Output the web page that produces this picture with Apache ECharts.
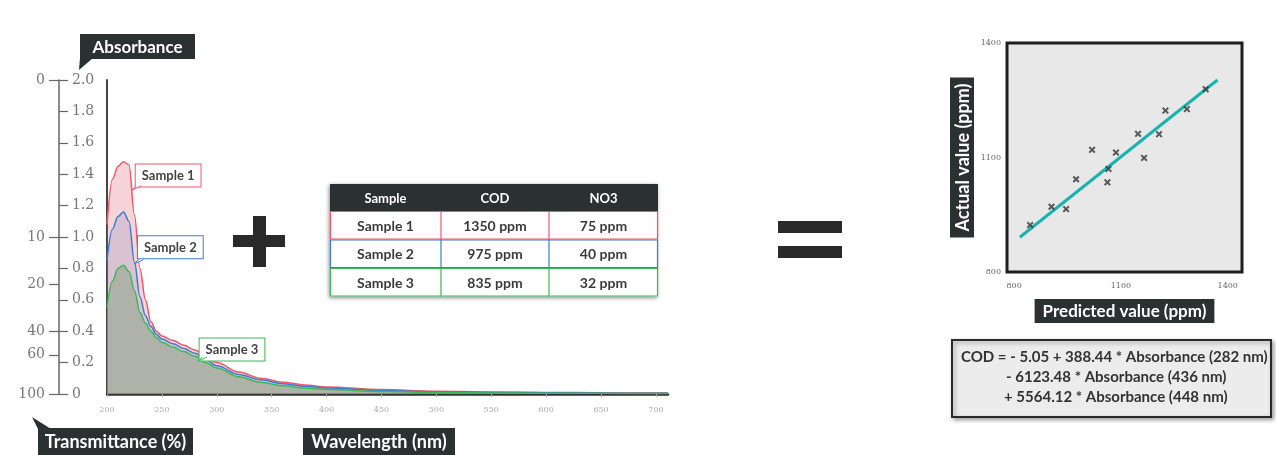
<!DOCTYPE html>
<html>
<head>
<meta charset="utf-8">
<title>COD prediction from absorbance spectra</title>
<script src="https://cdn.jsdelivr.net/npm/echarts@6/dist/echarts.min.js"></script>
<style>
    html, body { margin: 0; padding: 0; background: #fff; }
    #chart { width: 1276px; height: 455px; }
</style>
</head>
<body>
<div id="chart"></div>
<script>
'use strict';

// spectra (absorbance vs wavelength, nm)
var wavelengths = [200, 205, 210, 215, 220, 225, 230, 235, 240, 245, 250, 260, 270, 280, 290, 300, 320, 340, 360, 380, 400, 450, 500, 550, 600, 650, 700, 711];
var sample1 = [1.08, 1.37, 1.45, 1.48, 1.46, 1.14, 0.80, 0.60, 0.46, 0.40, 0.37, 0.34, 0.31, 0.28, 0.24, 0.20, 0.14, 0.10, 0.075, 0.058, 0.045, 0.028, 0.018, 0.013, 0.010, 0.008, 0.006, 0.006];
var sample2 = [0.85, 1.05, 1.13, 1.16, 1.10, 0.84, 0.62, 0.50, 0.43, 0.38, 0.35, 0.32, 0.29, 0.26, 0.22, 0.18, 0.125, 0.09, 0.065, 0.05, 0.038, 0.022, 0.014, 0.010, 0.008, 0.006, 0.005, 0.005];
var sample3 = [0.55, 0.72, 0.80, 0.82, 0.78, 0.66, 0.52, 0.45, 0.40, 0.36, 0.33, 0.30, 0.27, 0.24, 0.20, 0.165, 0.11, 0.075, 0.052, 0.038, 0.028, 0.016, 0.010, 0.007, 0.005, 0.004, 0.003, 0.003];
var sampleNames = ['Sample 1', 'Sample 2', 'Sample 3'];
var wavelengthTicks = [200, 250, 300, 350, 400, 450, 500, 550, 600, 650, 700];

// where each sample's call-out points on its curve [nm, absorbance]
var calloutTips = [[223, 1.30], [225, 0.83], [283, 0.21]];

// transmittance scale drawn beside the absorbance scale
var transTickPos = [0, 0.25, 0.4, 0.7, 1.0, 2.0];
var transLabels = ['100', '60', '40', '20', '10', '0'];

// lab results table
var tableHeader = ['Sample', 'COD', 'NO3'];
var tableCod = ['1350 ppm', '975 ppm', '835 ppm'];
var tableNo3 = ['75 ppm', '40 ppm', '32 ppm'];

// predicted vs actual COD (ppm)
var predicted = [845, 905, 946, 974, 1019, 1062, 1065, 1086, 1148, 1165, 1207, 1225, 1285, 1338];
var actual = [923, 971, 965, 1043, 1120, 1035, 1070, 1113, 1162, 1099, 1161, 1223, 1227, 1279];
var fitX = [816, 1371];
var fitY = [891, 1303];
var scatterTicks = [800, 1100, 1400];

var equation = [
    'COD = - 5.05 + 388.44 * Absorbance (282 nm)',
    '- 6123.48 * Absorbance (436 nm)',
    '+ 5564.12 * Absorbance (448 nm)'
];

var DARK = '#2b3030';
var RED = '#ee5868';
var BLUE = '#3b7cd0';
var GREEN = '#3cb85a';
var SAMPLE_COLORS = [RED, BLUE, GREEN];
var SANS = 'Lato, "Open Sans", sans-serif';
var TICKFONT = '"DejaVu Serif", serif';

function pairs(xs, ys) {
    var out = [];
    for (var i = 0; i < xs.length; i++) {
        out.push([xs[i], ys[i]]);
    }
    return out;
}

function sampleSeries(idx, values, fill, labelPos) {
    var line = SAMPLE_COLORS[idx];
    return {
        name: sampleNames[idx],
        type: 'line',
        xAxisIndex: 0,
        yAxisIndex: 0,
        data: pairs(wavelengths, values),
        smooth: 0.35,
        smoothMonotone: 'x',
        showSymbol: false,
        lineStyle: { color: line, width: 1.5 },
        areaStyle: { color: fill },
        z: 2 + idx,
        markPoint: {
            symbol: 'circle',
            symbolSize: 1,
            itemStyle: { color: line },
            data: [{ coord: calloutTips[idx] }],
            label: {
                show: true,
                position: labelPos,
                formatter: sampleNames[idx],
                color: '#444',
                fontFamily: SANS,
                fontWeight: 'bold',
                fontSize: 13,
                backgroundColor: '#fff',
                borderColor: line,
                borderWidth: 1,
                padding: [5, 6, 4, 6]
            }
        }
    };
}

function darkLabel(x, y, w, h, text, size) {
    return [
        { type: 'rect', shape: { x: x, y: y, width: w, height: h }, style: { fill: DARK } },
        {
            type: 'text', x: x + w / 2, y: y + h / 2 + 1,
            style: { text: text, fill: '#fff', font: 'bold ' + size + 'px ' + SANS, align: 'center', verticalAlign: 'middle' }
        }
    ];
}

function tableGraphics() {
    var left = 330, top = 184, colX = [330, 441, 549, 658], headH = 27, rowH = 28.5;
    var els = [];
    var width = colX[3] - colX[0];
    var height = headH + rowH * 3;
    els.push({ type: 'rect', shape: { x: left, y: top, width: width, height: height },
        style: { fill: '#fff', shadowBlur: 4, shadowColor: 'rgba(0,0,0,0.45)', shadowOffsetX: -1, shadowOffsetY: 1 } });
    els.push({ type: 'rect', shape: { x: left, y: top, width: width, height: headH }, style: { fill: DARK } });
    for (var c = 0; c < 3; c++) {
        els.push({ type: 'text', x: (colX[c] + colX[c + 1]) / 2, y: top + headH / 2 + 1,
            style: { text: tableHeader[c], fill: '#fff', font: 'bold 13px ' + SANS, align: 'center', verticalAlign: 'middle' } });
    }
    for (var r = 0; r < 3; r++) {
        var y0 = top + headH + r * rowH;
        var cells = [sampleNames[r], tableCod[r], tableNo3[r]];
        els.push({ type: 'rect', shape: { x: left + 0.5, y: y0 + 0.5, width: width - 1, height: rowH - 1 },
            style: { fill: 'none', stroke: SAMPLE_COLORS[r], lineWidth: 1.2 } });
        for (var k = 1; k < 3; k++) {
            els.push({ type: 'line', shape: { x1: colX[k], y1: y0, x2: colX[k], y2: y0 + rowH },
                style: { stroke: SAMPLE_COLORS[r], lineWidth: 1.2 } });
        }
        for (var j = 0; j < 3; j++) {
            els.push({ type: 'text', x: (colX[j] + colX[j + 1]) / 2, y: y0 + rowH / 2 + 1,
                style: { text: cells[j], fill: '#3a3a3a', font: 'bold 14px ' + SANS, align: 'center', verticalAlign: 'middle' } });
        }
    }
    return els;
}

var chartElement = document.getElementById('chart');
var chart = echarts.init(chartElement, null, { renderer: 'canvas' });

var graphics = []
    .concat(darkLabel(80, 34, 115, 25, 'Absorbance', 17))
    .concat([{ type: 'polygon', shape: { points: [[80, 58], [93, 58], [79, 70]] }, style: { fill: DARK } }])
    .concat(darkLabel(38, 428, 155, 27, 'Transmittance (%)', 18))
    .concat([{ type: 'polygon', shape: { points: [[38, 429], [51, 429], [32, 417]] }, style: { fill: DARK } }])
    .concat(darkLabel(303, 428, 152, 27, 'Wavelength (nm)', 18))
    // plus and equals signs
    .concat([
        { type: 'rect', shape: { x: 253, y: 216, width: 13, height: 51 }, style: { fill: '#2a2a2a' } },
        { type: 'rect', shape: { x: 233, y: 235, width: 52, height: 12 }, style: { fill: '#2a2a2a' } },
        { type: 'rect', shape: { x: 778, y: 221, width: 64, height: 12 }, style: { fill: '#2a2a2a' } },
        { type: 'rect', shape: { x: 778, y: 246, width: 64, height: 12 }, style: { fill: '#2a2a2a' } }
    ])
    .concat(tableGraphics())
    // regression equation box
    .concat([
        { type: 'rect', shape: { x: 952, y: 340, width: 319, height: 77 },
            style: { fill: '#ececec', stroke: '#2a2a2a', lineWidth: 2, shadowBlur: 4, shadowColor: 'rgba(0,0,0,0.35)', shadowOffsetX: 2, shadowOffsetY: 2 } },
        { type: 'text', x: 961, y: 357, style: { text: equation[0], fill: '#333', font: 'bold 15px ' + SANS, verticalAlign: 'middle' } },
        { type: 'text', x: 1006, y: 377, style: { text: equation[1], fill: '#333', font: 'bold 15px ' + SANS, verticalAlign: 'middle' } },
        { type: 'text', x: 1004, y: 397, style: { text: equation[2], fill: '#333', font: 'bold 15px ' + SANS, verticalAlign: 'middle' } }
    ]);

var plainNumber = function (v) { return String(v); };

var option = {
    backgroundColor: '#fff',
    animation: false,
    grid: [
        { left: 107, top: 80, width: 561, height: 314 },
        { left: 1007, top: 43, width: 235, height: 229, show: true, backgroundColor: '#e7e8e7', borderColor: '#1e1e1e', borderWidth: 3 }
    ],
    xAxis: [
        {
            gridIndex: 0, type: 'value', min: 200, max: 711,
            axisLine: { lineStyle: { color: '#333', width: 2.5 } },
            axisTick: { customValues: wavelengthTicks, length: 3, lineStyle: { color: '#aaa' } },
            axisLabel: { customValues: wavelengthTicks, fontSize: 8, color: '#aaa', margin: 12, fontFamily: TICKFONT, formatter: plainNumber },
            splitLine: { show: false }
        },
        {
            gridIndex: 1, type: 'value', min: 780, max: 1440,
            axisLine: { show: false },
            axisTick: { show: false },
            axisLabel: { customValues: scatterTicks, fontSize: 8, color: '#666', margin: 10, fontFamily: TICKFONT, formatter: plainNumber },
            splitLine: { show: false },
            name: 'Predicted value (ppm)',
            nameLocation: 'middle',
            nameGap: 27,
            nameTextStyle: { color: '#fff', fontWeight: 'bold', fontSize: 17, fontFamily: SANS, backgroundColor: DARK, padding: [4, 8, 3, 8] }
        }
    ],
    yAxis: [
        {
            gridIndex: 0, type: 'value', min: 0, max: 2,
            axisLine: { show: true, lineStyle: { color: '#444', width: 2 } },
            axisTick: { show: false }, axisLabel: { show: false }, splitLine: { show: false }
        },
        {
            // absorbance scale
            gridIndex: 0, type: 'value', min: 0, max: 2, interval: 0.2, position: 'left', offset: 48,
            axisLine: { show: true, lineStyle: { color: '#666', width: 1.5 } },
            axisTick: { show: true, inside: true, length: 9, lineStyle: { color: '#666', width: 1.2 } },
            axisLabel: {
                inside: true, margin: 13, fontSize: 14, color: '#777', fontFamily: TICKFONT,
                formatter: function (v) { return v === 0 ? '0' : v.toFixed(1); }
            },
            splitLine: { show: false }
        },
        {
            // transmittance scale
            gridIndex: 0, type: 'value', min: 0, max: 2, position: 'left', offset: 48,
            axisLine: { show: false },
            axisTick: { show: true, customValues: transTickPos, length: 10, lineStyle: { color: '#666', width: 1.2 } },
            axisLabel: {
                customValues: transTickPos, margin: 14, fontSize: 14, color: '#777', fontFamily: TICKFONT,
                formatter: function (v) {
                    var i = transTickPos.indexOf(v);
                    return i >= 0 ? transLabels[i] : '';
                }
            },
            splitLine: { show: false }
        },
        {
            gridIndex: 1, type: 'value', min: 800, max: 1400,
            axisLine: { show: false },
            axisTick: { show: false },
            axisLabel: { customValues: scatterTicks, fontSize: 8, color: '#666', margin: 6, fontFamily: TICKFONT, formatter: plainNumber },
            splitLine: { show: false },
            name: 'Actual value (ppm)',
            nameLocation: 'middle',
            nameRotate: 90,
            nameGap: 33,
            nameTextStyle: { color: '#fff', fontWeight: 'bold', fontSize: 18, fontFamily: SANS, backgroundColor: DARK, padding: [4, 6, 2, 6] }
        }
    ],
    series: [
        sampleSeries(0, sample1, 'rgba(222,92,104,0.38)', [4, -25]),
        sampleSeries(1, sample2, 'rgba(110,130,200,0.3)', [4, -27]),
        sampleSeries(2, sample3, 'rgba(140,163,134,0.78)', [2, -22]),
        {
            name: 'Fit',
            type: 'line',
            xAxisIndex: 1,
            yAxisIndex: 3,
            data: pairs(fitX, fitY),
            showSymbol: false,
            lineStyle: { color: '#19b3ad', width: 3 },
            z: 3
        },
        {
            name: 'Samples',
            type: 'scatter',
            xAxisIndex: 1,
            yAxisIndex: 3,
            data: pairs(predicted, actual),
            symbol: 'path://M2,0L5,3L8,0L10,2L7,5L10,8L8,10L5,7L2,10L0,8L3,5L0,2Z',
            symbolSize: 7,
            itemStyle: { color: '#333' },
            z: 4
        }
    ],
    graphic: graphics
};

chart.setOption(option);

// small speech-bubble tails joining each call-out box to its curve
var tails = [];
for (var t = 0; t < calloutTips.length; t++) {
    var p = chart.convertToPixel({ gridIndex: 0 }, calloutTips[t]);
    tails.push({
        type: 'polyline',
        shape: { points: [[p[0] + 9, p[1] - 4], [p[0], p[1]], [p[0] + 4, p[1] - 4]] },
        style: { stroke: SAMPLE_COLORS[t], fill: '#fff', lineWidth: 1 },
        z: 100
    });
}
chart.setOption({ graphic: graphics.concat(tails) });
</script>
</body>
</html>
